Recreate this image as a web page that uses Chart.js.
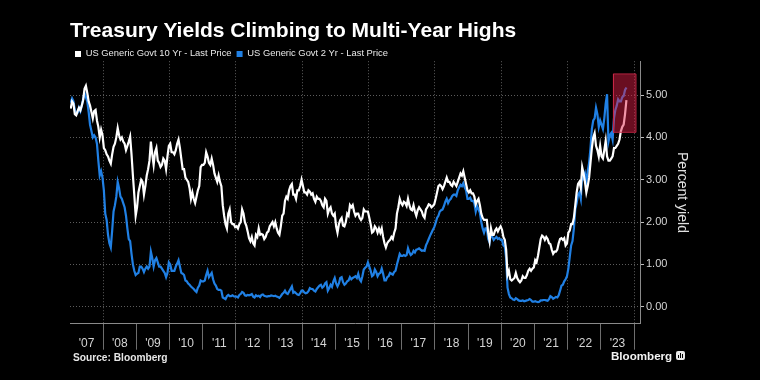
<!DOCTYPE html>
<html>
<head>
<meta charset="utf-8">
<script src="https://cdn.jsdelivr.net/npm/chart.js@4.4.0/dist/chart.umd.min.js"></script>
<style>
  html, body { margin: 0; padding: 0; background: #000; }
  #wrap { position: relative; width: 760px; height: 380px; background: #000; overflow: hidden; }
  #c { position: absolute; left: 0; top: 0; }
  .src { position: absolute; left: 73px; top: 352px; font: bold 10.2px "Liberation Sans", Arial, sans-serif; color: #e6e6e6; white-space: nowrap; }
  .logo { position: absolute; left: 611px; top: 349px; font: bold 11.6px "Liberation Sans", Arial, sans-serif; color: #f2f2f2; white-space: nowrap; }
  .ico { position: absolute; left: 676px; top: 351px; width: 9px; height: 9px; background: #e8e8e8; border-radius: 2px; }
  .ico i { position: absolute; bottom: 2px; width: 1px; background: #000; }
</style>
</head>
<body>
<div id="wrap">
  <canvas id="c" width="760" height="380"></canvas>
  <div class="src">Source: Bloomberg</div>
  <div class="logo">Bloomberg</div>
  <div class="ico"><i style="left:2px;height:3px"></i><i style="left:4px;height:5px"></i><i style="left:6px;height:4px"></i></div>
</div>
<script>
// ---- data (semi-monthly readings, first point = first half of Jan 2007) ----
const startYear = 2007;
const stepsPerYear = 24;

const tenYear = [
  4.68,4.85,4.80,4.55,4.52,4.62,4.70,4.64,4.75,4.88,5.15,5.22,5.05,4.85,4.75,4.60,4.45,4.62,4.65,4.40,4.25,4.00,4.18,4.05,
  3.75,3.70,3.60,3.55,3.45,3.38,3.60,3.78,3.85,4.00,4.22,4.05,3.95,4.00,3.90,3.85,3.70,3.80,3.90,4.02,3.60,3.10,2.65,2.15,
  2.35,2.70,2.85,3.00,2.95,2.65,2.85,3.10,3.25,3.45,3.90,3.60,3.35,3.65,3.75,3.45,3.40,3.30,3.35,3.50,3.45,3.25,3.55,3.80,
  3.85,3.65,3.65,3.60,3.70,3.85,3.95,3.75,3.50,3.25,3.25,3.05,3.00,2.95,2.80,2.55,2.70,2.55,2.45,2.60,2.75,2.85,3.30,3.35,
  3.35,3.40,3.65,3.55,3.40,3.35,3.50,3.35,3.15,3.05,2.95,3.10,2.95,2.85,2.40,2.15,1.95,1.85,2.20,2.30,2.00,1.95,1.95,1.88,
  1.90,1.85,1.95,2.00,2.30,2.20,2.00,1.92,1.78,1.62,1.55,1.65,1.50,1.45,1.70,1.65,1.85,1.70,1.72,1.70,1.60,1.65,1.75,1.78,
  1.90,1.95,2.00,1.90,2.00,1.85,1.75,1.70,1.90,2.15,2.20,2.50,2.60,2.55,2.75,2.85,2.90,2.65,2.65,2.55,2.75,2.75,2.85,3.00,
  2.85,2.70,2.70,2.65,2.75,2.72,2.65,2.68,2.55,2.48,2.60,2.55,2.55,2.50,2.40,2.35,2.55,2.50,2.20,2.30,2.35,2.20,2.15,2.20,
  1.90,1.75,1.95,2.05,2.10,1.92,1.90,2.00,2.20,2.15,2.40,2.35,2.40,2.25,2.15,2.20,2.20,2.10,2.05,2.10,2.30,2.25,2.25,2.25,
  2.10,1.95,1.75,1.78,1.90,1.85,1.75,1.85,1.75,1.85,1.65,1.50,1.40,1.50,1.55,1.58,1.65,1.60,1.75,1.85,2.20,2.35,2.55,2.45,
  2.40,2.48,2.45,2.38,2.55,2.40,2.30,2.28,2.40,2.25,2.15,2.28,2.35,2.30,2.25,2.15,2.10,2.30,2.35,2.42,2.40,2.35,2.38,2.42,
  2.55,2.70,2.85,2.88,2.85,2.78,2.85,2.95,3.05,2.95,2.95,2.88,2.85,2.95,2.90,2.85,2.95,3.05,3.15,3.10,3.20,3.05,2.90,2.75,
  2.70,2.75,2.68,2.68,2.60,2.42,2.50,2.55,2.40,2.20,2.10,2.05,2.05,2.05,1.75,1.55,1.85,1.70,1.70,1.80,1.85,1.78,1.85,1.90,
  1.82,1.65,1.58,1.35,0.75,0.85,0.65,0.62,0.65,0.68,0.80,0.68,0.62,0.58,0.62,0.72,0.68,0.68,0.75,0.85,0.90,0.85,0.90,0.93,
  1.10,1.05,1.20,1.40,1.60,1.68,1.65,1.58,1.65,1.60,1.50,1.48,1.35,1.25,1.30,1.30,1.35,1.50,1.60,1.62,1.58,1.62,1.45,1.50,
  1.75,1.80,1.95,1.95,2.10,2.40,2.70,2.90,2.95,2.80,3.30,3.15,2.95,2.70,2.85,3.05,3.40,3.75,4.00,4.10,3.80,3.70,3.55,3.80,
  3.55,3.50,3.70,3.92,3.55,3.45,3.45,3.50,3.55,3.75,3.75,3.80,3.85,3.95,4.15,4.25,4.30,4.55,4.88
];

const twoYear = [
  4.82,4.92,4.85,4.65,4.55,4.58,4.70,4.62,4.75,4.90,5.05,4.95,4.85,4.60,4.30,4.15,4.00,4.05,4.00,3.85,3.45,3.10,3.20,3.05,
  2.75,2.20,2.05,1.70,1.50,1.40,1.80,2.25,2.40,2.60,2.95,2.80,2.60,2.55,2.45,2.35,2.15,1.85,1.60,1.55,1.25,1.00,0.85,0.75,
  0.78,0.80,0.95,0.95,0.90,0.82,0.90,0.95,0.90,0.95,1.30,1.15,0.95,1.10,1.15,1.05,0.95,0.95,0.90,0.85,0.80,0.70,0.80,1.05,
  1.00,0.85,0.85,0.85,0.95,1.02,1.10,0.95,0.80,0.78,0.75,0.62,0.60,0.55,0.52,0.48,0.45,0.42,0.38,0.35,0.45,0.50,0.62,0.60,
  0.60,0.62,0.75,0.85,0.70,0.75,0.80,0.65,0.55,0.50,0.42,0.40,0.40,0.38,0.22,0.20,0.18,0.25,0.28,0.25,0.25,0.27,0.25,0.24,
  0.24,0.22,0.28,0.30,0.35,0.33,0.27,0.26,0.28,0.27,0.28,0.30,0.24,0.22,0.27,0.25,0.26,0.23,0.28,0.29,0.26,0.25,0.24,0.25,
  0.25,0.27,0.26,0.25,0.26,0.24,0.23,0.21,0.25,0.30,0.33,0.38,0.32,0.30,0.36,0.42,0.48,0.33,0.35,0.32,0.29,0.28,0.32,0.38,
  0.38,0.34,0.32,0.33,0.37,0.44,0.42,0.42,0.38,0.36,0.42,0.46,0.50,0.52,0.45,0.48,0.55,0.58,0.38,0.44,0.52,0.47,0.60,0.68,
  0.55,0.48,0.55,0.68,0.70,0.58,0.52,0.55,0.60,0.62,0.70,0.65,0.68,0.70,0.72,0.68,0.78,0.65,0.60,0.72,0.88,0.92,0.95,1.05,
  0.95,0.85,0.72,0.75,0.88,0.82,0.72,0.78,0.80,0.90,0.78,0.62,0.62,0.70,0.72,0.80,0.78,0.76,0.82,0.85,1.00,1.12,1.25,1.20,
  1.20,1.22,1.20,1.22,1.38,1.28,1.22,1.25,1.32,1.28,1.35,1.36,1.38,1.35,1.32,1.33,1.32,1.45,1.52,1.60,1.68,1.75,1.82,1.88,
  1.98,2.10,2.15,2.25,2.28,2.30,2.38,2.48,2.55,2.45,2.52,2.55,2.62,2.65,2.65,2.62,2.75,2.82,2.88,2.85,2.92,2.82,2.75,2.55,
  2.55,2.58,2.50,2.50,2.45,2.25,2.38,2.30,2.22,2.00,1.85,1.75,1.85,1.85,1.60,1.52,1.75,1.65,1.58,1.62,1.65,1.60,1.62,1.58,
  1.58,1.45,1.42,1.15,0.45,0.30,0.22,0.20,0.17,0.16,0.20,0.18,0.15,0.14,0.14,0.15,0.13,0.14,0.15,0.16,0.18,0.16,0.12,0.12,
  0.13,0.12,0.11,0.12,0.15,0.15,0.16,0.16,0.15,0.14,0.18,0.25,0.23,0.19,0.21,0.23,0.22,0.27,0.38,0.50,0.52,0.60,0.65,0.72,
  0.90,1.18,1.45,1.55,1.85,2.30,2.45,2.65,2.70,2.55,3.15,3.05,3.15,2.95,3.20,3.40,3.75,4.20,4.40,4.45,4.70,4.55,4.25,4.40,
  4.30,4.20,4.45,4.80,5.02,3.90,4.05,4.10,3.95,4.45,4.65,4.75,4.90,4.85,4.85,4.95,4.98,5.12,5.18
];

const highlightX = [2023.38, 2024.06];
const highlightY = [4.12, 5.50];

const tickYears = [2007,2008,2009,2010,2011,2012,2013,2014,2015,2016,2017,2018,2019,2020,2021,2022,2023,2024];
const yearLabels = ["'07","'08","'09","'10","'11","'12","'13","'14","'15","'16","'17","'18","'19","'20","'21","'22","'23"];
const yTicks = [0, 1, 2, 3, 4, 5];

const seriesNames = ['US Generic Govt 10 Yr - Last Price', 'US Generic Govt 2 Yr - Last Price'];
const titleText = 'Treasury Yields Climbing to Multi-Year Highs';

// ---- build ----
const toPoints = arr => arr.map((v, i) => ({ x: startYear + (i + 0.5) / stepsPerYear, y: v }));
const boxPoints = [
  { x: highlightX[0], y: highlightY[0] },
  { x: highlightX[1], y: highlightY[0] },
  { x: highlightX[1], y: highlightY[1] },
  { x: highlightX[0], y: highlightY[1] },
  { x: highlightX[0], y: highlightY[0] }
];

Chart.defaults.font.family = '"Liberation Sans", Arial, sans-serif';
const clear = 'rgba(0,0,0,0)';
const gridGrey = '#5c5c5c';

new Chart(document.getElementById('c'), {
  type: 'line',
  data: {
    datasets: [
      { label: seriesNames[0], data: toPoints(tenYear), borderColor: '#ffffff', backgroundColor: '#ffffff',
        borderWidth: 2.2, pointRadius: 0, tension: 0, fill: false, order: 0 },
      { label: seriesNames[1], data: toPoints(twoYear), borderColor: 'rgb(32,128,228)', backgroundColor: 'rgb(32,128,228)',
        borderWidth: 2.2, pointRadius: 0, tension: 0, fill: false, order: 0 },
      { label: 'highlight', data: boxPoints, borderColor: 'rgba(200,40,70,0.85)', backgroundColor: 'rgba(225,30,70,0.47)',
        borderWidth: 1, pointRadius: 0, tension: 0, fill: 'shape', order: -1 }
    ]
  },
  options: {
    responsive: false,
    animation: false,
    events: [],
    layout: { padding: { left: 70, right: 0, top: 19, bottom: 0 } },
    plugins: {
      title: {
        display: true, text: titleText, align: 'start', color: '#ffffff',
        font: { size: 21, weight: 'bold' }, padding: { top: 0, bottom: 0 }
      },
      legend: {
        display: true, align: 'start', maxHeight: 17,
        labels: {
          color: '#e8e8e8', boxWidth: 6, boxHeight: 6, padding: 5,
          font: { size: 9.4 },
          generateLabels: chart => Chart.defaults.plugins.legend.labels.generateLabels(chart)
            .filter(l => l.datasetIndex < 2)
            .map(l => Object.assign({}, l, { lineWidth: 0 }))
        }
      },
      tooltip: { enabled: false }
    },
    scales: {
      x: {
        type: 'linear', min: 2007, max: 2024.18,
        afterBuildTicks: s => { s.ticks = tickYears.map(v => ({ value: v })); },
        afterFit: s => { s.height = 56.3; },
        border: { display: true, color: '#8a8a8a', width: 1, dash: [1, 2] },
        grid: {
          color: ctx => (ctx.tick && ctx.tick.value % 2 === 0) ? gridGrey : clear,
          tickColor: ctx => (ctx.tick && ctx.tick.value === 2007) ? clear : '#6e6e6e',
          tickBorderDash: [],
          tickLength: 26
        },
        ticks: {
          color: '#d4d4d4', font: { size: 12 }, labelOffset: 16.6, padding: -13,
          maxRotation: 0, autoSkip: false,
          callback: (v, i) => (i < yearLabels.length ? yearLabels[i] : '')
        }
      },
      y: {
        position: 'right', min: -0.4, max: 5.8,
        afterBuildTicks: s => { s.ticks = yTicks.map(v => ({ value: v })); },
        afterFit: s => { s.width = 120; },
        border: { display: true, color: '#8a8a8a', width: 1, dash: [1, 2] },
        grid: { color: gridGrey, tickColor: '#bdbdbd', tickBorderDash: [], tickLength: 4 },
        ticks: { color: '#d4d4d4', font: { size: 11 }, padding: 2, callback: v => Number(v).toFixed(2) },
        title: { display: true, text: 'Percent yield', color: '#e0e0e0', font: { size: 14 }, padding: { top: 70, bottom: 0 } }
      }
    }
  }
});
</script>
</body>
</html>
